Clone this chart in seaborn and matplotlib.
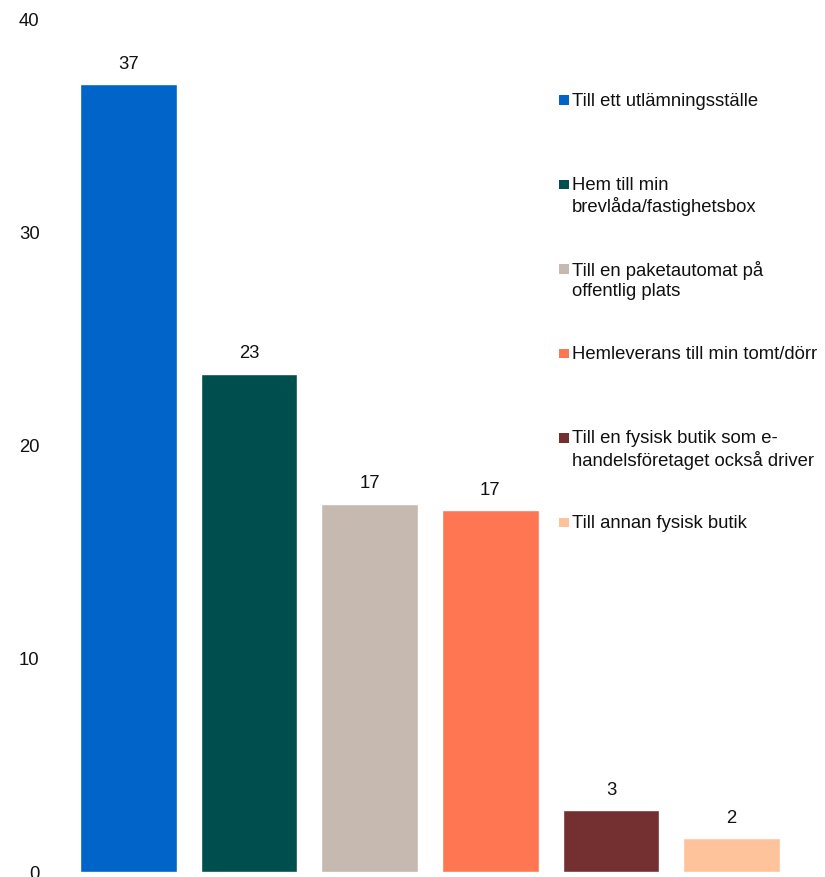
import matplotlib
matplotlib.use("Agg")
import matplotlib.pyplot as plt
import seaborn as sns
import pandas as pd
from matplotlib.patches import Rectangle

categories = [
    "Till ett utlämningsställe",
    "Hem till min\nbrevlåda/fastighetsbox",
    "Till en paketautomat på\noffentlig plats",
    "Hemleverans till min tomt/dörr",
    "Till en fysisk butik som e-\nhandelsföretaget också driver",
    "Till annan fysisk butik",
]
values = [37.0, 23.4, 17.3, 17.0, 2.9, 1.6]
value_labels = ["37", "23", "17", "17", "3", "2"]
colors = ["#0064C8", "#004F4F", "#C6B9B0", "#FF7752", "#742F30", "#FFC39C"]
yticks = [0, 10, 20, 30, 40]

sns.set_style("white")
plt.rcParams["font.family"] = ["Liberation Sans", "DejaVu Sans"]

df = pd.DataFrame({"cat": categories, "val": values})

fig = plt.figure(figsize=(8.25, 8.77), dpi=100)
ax = fig.add_axes([0.0824, 0.0057, 0.8776, 0.9715])

sns.barplot(data=df, x="cat", y="val", hue="cat", palette=colors,
            dodge=False, legend=False, width=0.8, saturation=1, ax=ax)

for cont, lab in zip(ax.containers, value_labels):
    ax.bar_label(cont, labels=[lab], padding=8, fontsize=13.3, color="#111111")

ax.set_ylim(0, 40)
ax.set_xlim(-0.5, len(categories) - 0.5)
ax.set_yticks(yticks)
ax.set_yticklabels([str(t) for t in yticks], fontsize=13.3, color="#111111")
ax.tick_params(axis="y", length=0, pad=20.5)
ax.set_xticks([])
ax.set_xlabel("")
ax.set_ylabel("")
for s in ax.spines.values():
    s.set_visible(False)

# manual legend
W, H = 825, 877
y0 = 100
step = 84.4
for i, (lab, col) in enumerate(zip(categories, colors)):
    yc = y0 + i * step
    fig.add_artist(Rectangle((559 / W, 1 - (yc + 5) / H), 9.5 / W, 9.5 / H,
                             transform=fig.transFigure, facecolor=col,
                             edgecolor="none"))
    fig.text(572 / W, 1 - (yc - 7.5) / H, lab, fontsize=13.3, va="top", ha="left",
             color="#111111", linespacing=1.24)

fig.savefig("out.png", dpi=100)
